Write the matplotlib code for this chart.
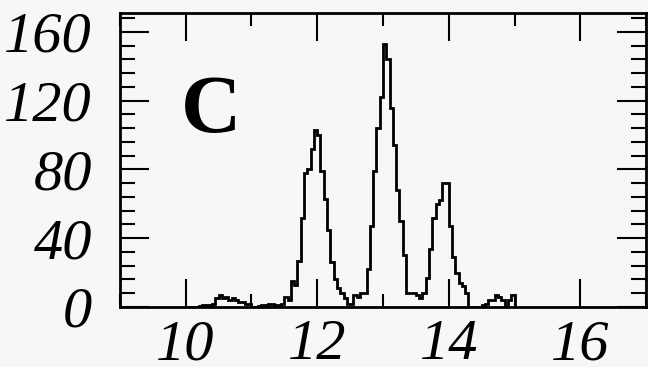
import numpy as np
import matplotlib.pyplot as plt
from matplotlib.ticker import MultipleLocator

# Histogram, bins of 0.05 starting at 10.0
bin_start = 10.0
bin_width = 0.05
counts = [
    # 10.00 - 10.95
    0, 0, 0, 0, 0.5, 1, 1, 1, 2, 5, 7, 5, 6, 4, 5, 4, 3, 3, 2, 2,
    # 11.00 - 11.95
    0, 0, 0.5, 1, 1, 2, 2, 1, 1, 2, 6, 4, 15, 13, 27, 52, 78, 80, 92, 103,
    # 12.00 - 12.95
    100, 79, 63, 45, 26, 16, 11, 8, 5, 2, 2, 7, 6, 8, 8, 22, 47, 79, 104, 122,
    # 13.00 - 13.95
    153, 144, 116, 94, 68, 50, 30, 8, 8, 8, 7, 5, 8, 17, 34, 52, 60, 62, 72, 72,
    # 14.00 - 14.95
    47, 29, 20, 14, 12, 8, 0, 0, 0, 0, 1, 2, 4, 4, 7, 6, 4, 0, 4, 7,
]

x_major = [10, 12, 14, 16]
x_labels = ["10", "12", "14", "16"]
y_major = [0, 40, 80, 120, 160]
y_labels = ["0", "40", "80", "120", "160"]
panel_tag = "C"

edges = bin_start + bin_width * np.arange(len(counts) + 1)

bg = "#f7f7f7"
fig = plt.figure(figsize=(6.48, 3.67), dpi=100, facecolor=bg)
ax = fig.add_axes([0.185, 0.1635, 0.812, 0.801], facecolor=bg)

ax.stairs(counts, edges, color="black", linewidth=2.0)

ax.set_xlim(9, 17)
ax.set_ylim(0, 171)

ax.set_xticks(x_major)
ax.set_xticklabels(x_labels)
ax.xaxis.set_minor_locator(MultipleLocator(1))
ax.set_yticks(y_major)
ax.set_yticklabels(y_labels)
ax.yaxis.set_minor_locator(MultipleLocator(8))

ax.tick_params(which="both", direction="in", top=True, right=True,
               width=1.5, color="black")
ax.tick_params(axis="x", which="major", length=20, pad=9)
ax.tick_params(axis="x", which="minor", length=9.5)
ax.tick_params(axis="y", which="major", length=21, pad=20)
ax.tick_params(axis="y", which="minor", length=10.5)

for lab in ax.get_xticklabels() + ax.get_yticklabels():
    lab.set_family("Liberation Serif")
    lab.set_style("italic")
    lab.set_fontsize(42)

for sp in ax.spines.values():
    sp.set_linewidth(2.0)

ax.text(10.39, 102, panel_tag, family="Liberation Serif", fontsize=60,
        fontweight="bold", ha="center", va="baseline")

fig.savefig("out.png", dpi=100, facecolor=bg)
